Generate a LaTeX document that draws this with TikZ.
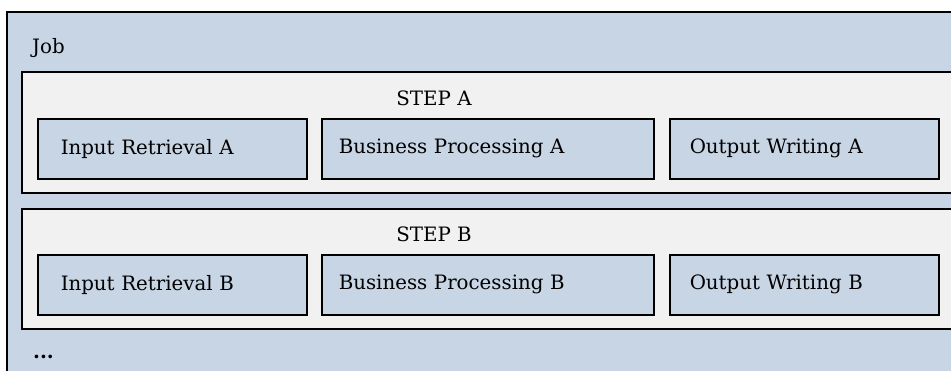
\documentclass[tikz,border=0pt]{standalone}
\usepackage{fontspec}
\setmainfont{DejaVu Serif}
\definecolor{jobfill}{HTML}{C8D5E5}
\definecolor{stepfill}{HTML}{F1F1F1}
\tikzset{
  frame/.style={draw=black, line width=1.5pt},
  taskbox/.style 2 args={frame, fill=jobfill, minimum width=#1, minimum height=60pt,
    inner xsep=#2, text width=#1-2*#2, align=left, anchor=north west},
  lbl/.style={anchor=base west, inner sep=0pt},
}
\begin{document}
\begin{tikzpicture}[x=1pt,y=-1pt, font=\fontsize{19.8}{23}\selectfont]
\useasboundingbox (0,0) rectangle (951,370);
\clip (0,0) rectangle (951,370);
\fill[white] (0,0) rectangle (951,370);
\draw[frame, fill=jobfill] (7,12) rectangle (980,400);
\node[lbl] (job) at (32,53) {Job};
\draw[frame, fill=stepfill] (22,72) rectangle (980,193);
\node[anchor=base, inner sep=0pt] (stepA) at (434,105) {STEP A};
\node[taskbox={269pt}{23pt}] (inA) at (37,118) {Input Retrieval A};
\node[taskbox={332pt}{17pt}] (bpA) at (321,118) {Business Processing A};
\node[taskbox={269pt}{20pt}] (owA) at (669,118) {Output Writing A};
\draw[frame, fill=stepfill] (22,209) rectangle (980,329);
\node[anchor=base, inner sep=0pt] (stepB) at (434,241) {STEP B};
\node[taskbox={269pt}{23pt}] (inB) at (37,254) {Input Retrieval B};
\node[taskbox={332pt}{17pt}] (bpB) at (321,254) {Business Processing B};
\node[taskbox={269pt}{20pt}] (owB) at (669,254) {Output Writing B};
\node[lbl] (dots) at (33,358) {\textbf{...}};
\end{tikzpicture}
\end{document}
